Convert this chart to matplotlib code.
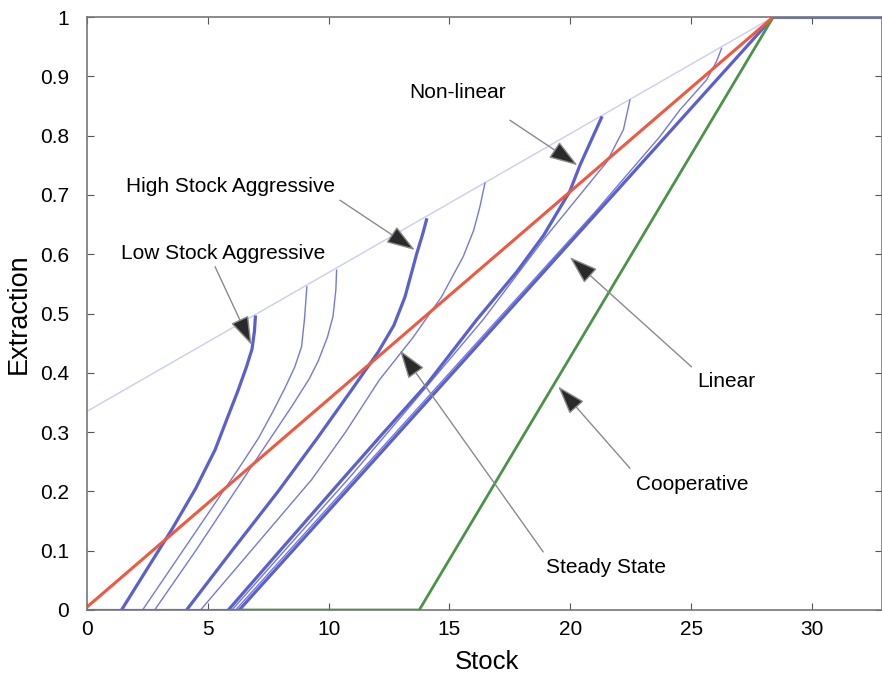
import numpy as np
import matplotlib
matplotlib.use("Agg")
import matplotlib.pyplot as plt

plt.rcParams['font.family'] = ['Liberation Sans', 'DejaVu Sans']

# curves (stock, extraction)
low_aggr_x = [1.43, 2.5, 3.5, 4.5, 5.3, 5.83, 6.25, 6.6, 6.83, 6.93, 6.97]
low_aggr_y = [0, 0.07, 0.135, 0.205, 0.27, 0.326, 0.37, 0.41, 0.44, 0.47, 0.494]

thin_a_x = [2.3, 3.8, 5.4, 6.3, 7.1, 7.7, 8.2, 8.6, 8.88, 9.0, 9.1]
thin_a_y = [0, 0.09, 0.186, 0.24, 0.29, 0.335, 0.375, 0.41, 0.444, 0.49, 0.545]

thin_b_x = [2.8, 4.5, 5.8, 7.09, 8.47, 9.2, 9.57, 9.95, 10.18, 10.3, 10.33]
thin_b_y = [0, 0.1, 0.18, 0.259, 0.343, 0.39, 0.42, 0.46, 0.495, 0.54, 0.573]

high_aggr_x = [4.12, 6.0, 7.91, 9.57, 10.95, 12.05, 12.7, 13.16, 13.64, 13.9, 14.05]
high_aggr_y = [0, 0.1, 0.2, 0.292, 0.371, 0.435, 0.48, 0.528, 0.6, 0.635, 0.658]

thin_c_x = [4.7, 7.0, 9.3, 10.7, 12.1, 13.5, 14.67, 15.57, 16.0, 16.26, 16.47]
thin_c_y = [0, 0.11, 0.22, 0.3, 0.388, 0.46, 0.528, 0.596, 0.64, 0.68, 0.72]

nonlin_x = [5.85, 8.2, 10.54, 12.12, 14.05, 16.12, 17.78, 18.9, 19.98, 20.4, 20.9, 21.29]
nonlin_y = [0, 0.11, 0.219, 0.292, 0.38, 0.489, 0.57, 0.632, 0.706, 0.75, 0.795, 0.83]

thin_d_x = [6.0, 8.5, 10.9, 13.5, 16.4, 18.9, 20.3, 21.5, 22.2, 22.47]
thin_d_y = [0, 0.115, 0.225, 0.35, 0.49, 0.625, 0.695, 0.755, 0.81, 0.86]

thin_e_x = [6.15, 17.0, 21.0, 23.7, 24.53, 25.64, 26.05, 26.26]
thin_e_y = [0, 0.49, 0.67, 0.798, 0.843, 0.894, 0.925, 0.947]

linear_x = [6.3, 28.4]
linear_y = [0, 1]

red_x = [0, 28.4]
red_y = [0.005, 1]

envelope_x = [0, 28.4]
envelope_y = [0.335, 1]

coop_x = [6.4, 13.75, 28.4]
coop_y = [0, 0, 1]

base_x = [0, 6.4]
base_y = [0, 0]
top_x = [28.4, 33]
top_y = [1, 1]

# label, text centre, arrow start, arrow tip
notes = [
    ("Non-linear", (15.35, 0.872), (17.5, 0.826), (20.3, 0.75)),
    ("High Stock Aggressive", (5.92, 0.715), (10.47, 0.691), (13.57, 0.607)),
    ("Low Stock Aggressive", (5.63, 0.602), (5.3, 0.579), (6.81, 0.447)),
    ("Linear", (26.44, 0.385), (25.02, 0.41), (19.98, 0.595)),
    ("Cooperative", (25.05, 0.212), (22.47, 0.239), (19.5, 0.377)),
    ("Steady State", (21.49, 0.071), (18.88, 0.098), (12.95, 0.438)),
]

BLUE = '#5b60cf'
THIN = '#7479dc'

fig = plt.figure(figsize=(8.82, 6.78), dpi=100)
ax = fig.add_axes([0.0986, 0.1003, 0.9014, 0.8746])

ax.plot(envelope_x, envelope_y, color='#c9cdf3', lw=1.0)
for xs, ys in [(thin_a_x, thin_a_y), (thin_b_x, thin_b_y), (thin_c_x, thin_c_y),
               (thin_d_x, thin_d_y), (thin_e_x, thin_e_y)]:
    ax.plot(xs, ys, color=THIN, lw=1.0)
for xs, ys in [(low_aggr_x, low_aggr_y), (high_aggr_x, high_aggr_y),
               (nonlin_x, nonlin_y), (linear_x, linear_y)]:
    ax.plot(xs, ys, color=BLUE, lw=2.3)
ax.plot(base_x, base_y, color=BLUE, lw=2.3)
ax.plot(top_x, top_y, color=BLUE, lw=2.0)
ax.plot(coop_x, coop_y, color='#4a9448', lw=2.0)
ax.plot(red_x, red_y, color='#f2583e', lw=2.2)

for label, txt, start, tip in notes:
    ax.text(txt[0], txt[1], label, fontsize=15, ha='center', va='center')
    ax.annotate('', xy=tip, xytext=start,
                arrowprops=dict(arrowstyle='-|>,head_length=1.8,head_width=0.6',
                                ec='#8a8a8a', fc='#2a2a2a', lw=1.0,
                                shrinkA=0, shrinkB=0))

ax.set_xlim(0, 32.9)
ax.set_ylim(0, 1)
ax.set_xticks([0, 5, 10, 15, 20, 25, 30])
ax.set_yticks(np.arange(0, 1.01, 0.1))
ax.set_yticklabels(['0', '0.1', '0.2', '0.3', '0.4', '0.5', '0.6', '0.7', '0.8', '0.9', '1'])
ax.tick_params(direction='in', top=True, right=True, labelsize=15, length=5,
               color='#555555')
ax.tick_params(axis='y', pad=13)
ax.tick_params(axis='x', pad=7)
for s in ax.spines.values():
    s.set_color('#777777')
    s.set_linewidth(1.2)
ax.set_xlabel('Stock', fontsize=18.5)
ax.set_ylabel('Extraction', fontsize=19.5)
ax.xaxis.set_label_coords(0.503, -0.067)
ax.yaxis.set_label_coords(-0.069, 0.5)

fig.savefig('out.png', dpi=100)
